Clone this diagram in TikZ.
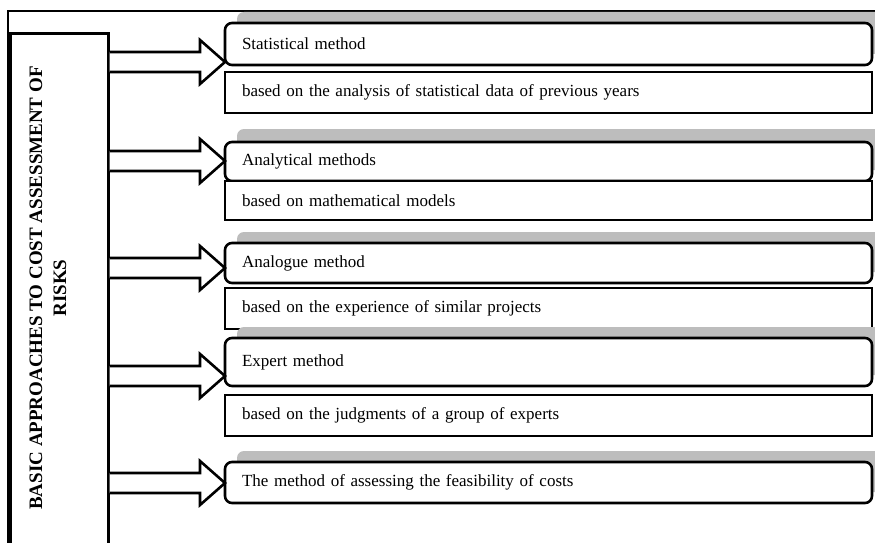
\documentclass[tikz,border=0pt]{standalone}
\usepackage{fontspec}
\setmainfont{Liberation Serif}
\newfontfamily\boxfont[WordSpace=0.8]{Liberation Serif}
\usetikzlibrary{shadows,calc}
\tikzset{
  meth/.style={draw, line width=2.6pt, rounded corners=7pt, fill=white, anchor=north west,
    minimum width=647pt, text width=613pt, inner xsep=17pt, inner ysep=0pt, align=left,
    outer sep=0pt, font=\boxfont\fontsize{17}{21}\selectfont,
    drop shadow={shadow xshift=12pt, shadow yshift=11pt, fill=black!26, opacity=1}},
  desc/.style={draw, line width=2.6pt, fill=white, anchor=north west,
    minimum width=647pt, text width=613pt, inner xsep=17pt, inner ysep=0pt, align=left,
    outer sep=0pt, font=\boxfont\fontsize{17}{21}\selectfont},
  arr/.style={draw, line width=2.6pt, fill=white, line join=miter},
  leftbox/.style={draw, line width=2.6pt, anchor=north west, minimum width=98pt, minimum height=512pt, inner sep=0pt},
  frameline/.style={line width=1.8pt}
}
\newcommand\blockarrow[2]{%
  \coordinate (at) at (0,#2-10);
  \coordinate (ab) at (0,#2+10);
  \coordinate (tipy) at (0,#2);
  \draw[arr] (lb.east |- at) -- (200,#2-10) -- (200,#2-22) -- (#1.west |- tipy)
     -- (200,#2+22) -- (200,#2+10) -- (lb.east |- ab);
}
\begin{document}
\begin{tikzpicture}[x=1pt,y=-1pt]
\useasboundingbox (0,0) rectangle (875,543);
\clip (0,0) rectangle (875,543);
\fill[white] (0,0) rectangle (875,543);
\draw[frameline] (8,560) -- (8,11) -- (890,11);
\node[leftbox] (lb) at (9,32) {};
\node[rotate=90, align=center, font=\bfseries\fontsize{19}{24}\selectfont] (title) at (48,288)
  {BASIC APPROACHES TO COST ASSESSMENT OF\\RISKS};

\node[meth, minimum height=42pt] (m1) at (225,23) {Statistical method};
\node[desc, minimum height=41pt] (d1) at (225,72) {based on the analysis of statistical data of previous years};
\node[meth, minimum height=39pt, drop shadow={shadow xshift=12pt, shadow yshift=13pt, fill=black!26, opacity=1}] (m2) at (225,142) {Analytical methods};
\node[desc, minimum height=39pt] (d2) at (225,181) {based on mathematical models};
\node[meth, minimum height=40pt] (m3) at (225,243) {Analogue method};
\node[desc, minimum height=41pt] (d3) at (225,288) {based on the experience of similar projects};
\node[meth, minimum height=48pt] (m4) at (225,338) {Expert method};
\node[desc, minimum height=41pt] (d4) at (225,395) {based on the judgments of a group of experts};
\node[meth, minimum height=41pt] (m5) at (225,462) {The method of assessing the feasibility of costs};

\blockarrow{m1}{62}
\blockarrow{m2}{161}
\blockarrow{m3}{268}
\blockarrow{m4}{376}
\blockarrow{m5}{483}
\end{tikzpicture}
\end{document}
